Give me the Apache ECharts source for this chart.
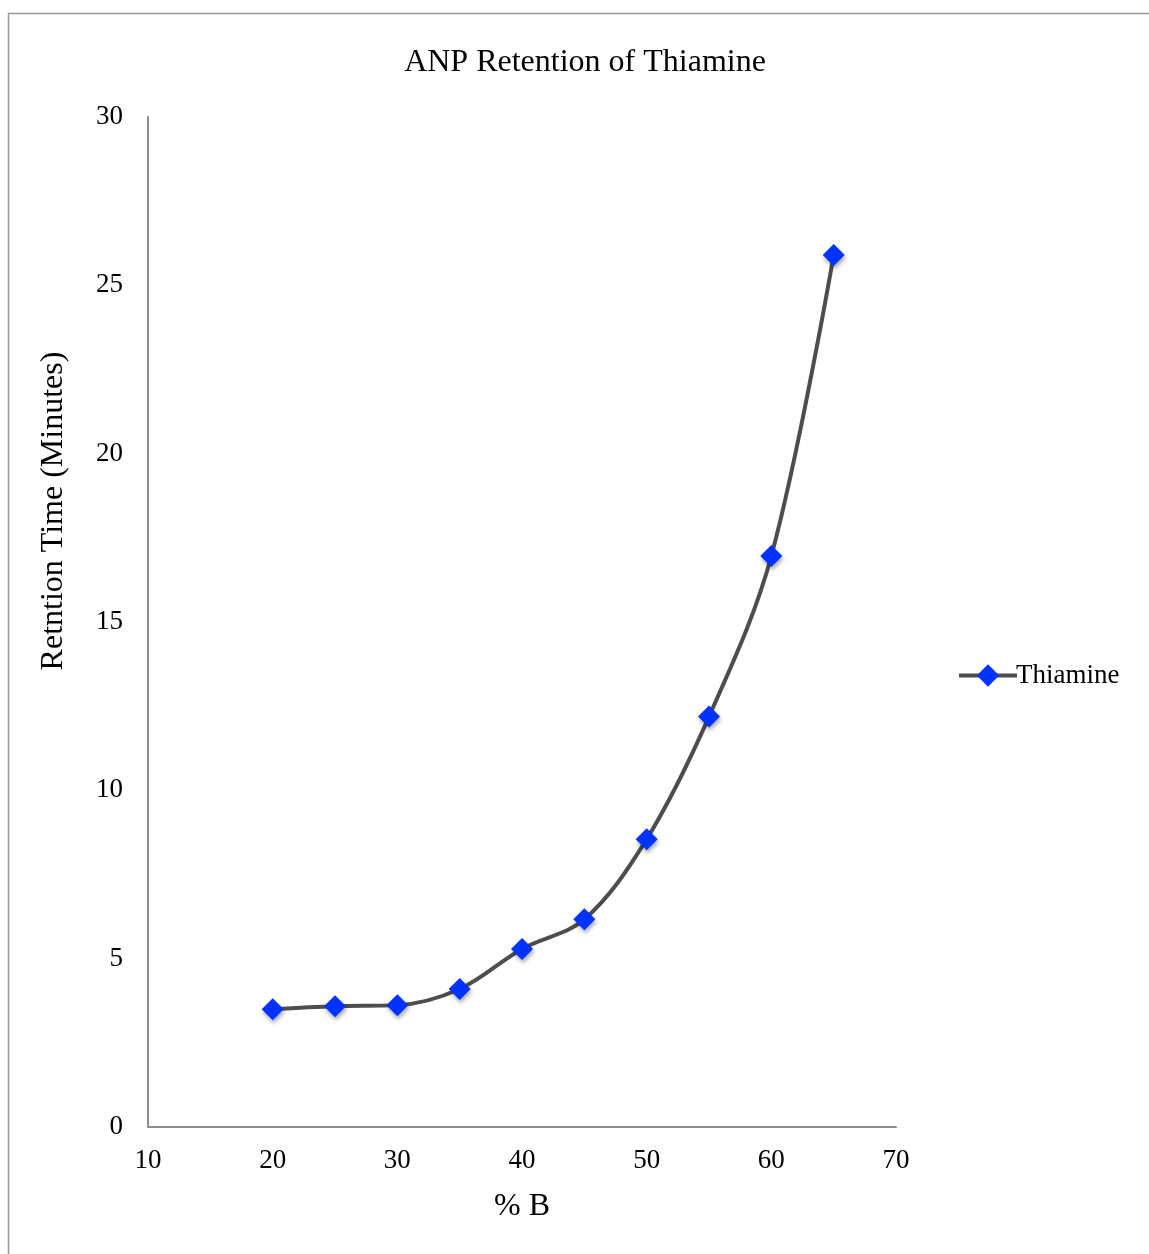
<!DOCTYPE html>
<html>
<head>
<meta charset="utf-8">
<script src="https://cdn.jsdelivr.net/npm/echarts@6/dist/echarts.min.js"></script>
<style>
html,body{margin:0;padding:0;background:#fff;}
#chart{width:1149px;height:1254px;}
</style>
</head>
<body>
<div id="chart"></div>
<script>
const percentB = [20, 25, 30, 35, 40, 45, 50, 55, 60, 65];
const retentionTime = [3.50, 3.59, 3.62, 4.10, 5.29, 6.17, 8.55, 12.19, 16.96, 25.90];
const seriesName = 'Thiamine';
const chartTitle = 'ANP Retention of Thiamine';
const xName = '% B';
const yName = 'Retntion Time (Minutes)';

const serif = '"Liberation Serif", "Times New Roman", serif';
const chart = echarts.init(document.getElementById('chart'), null, {renderer: 'canvas'});
chart.setOption({
  backgroundColor: '#fff',
  animation: false,
  graphic: [{
    type: 'rect', silent: true,
    shape: {x: 8.5, y: 13.5, width: 1400, height: 1400},
    style: {fill: 'none', stroke: '#999', lineWidth: 1.5}
  }],
  title: {
    text: chartTitle, left: 580, top: 42, textAlign: 'center',
    textStyle: {fontFamily: serif, fontSize: 32, fontWeight: 'normal', color: '#000'}
  },
  legend: {
    orient: 'vertical', left: 952, top: 657,
    itemWidth: 58, itemHeight: 28, itemGap: 6,
    lineStyle: {width: 4, color: '#4d4d4d'},
    textStyle: {fontFamily: serif, fontSize: 27, color: '#000', padding: [0, 0, 0, -6]},
    data: [seriesName]
  },
  grid: {left: 148, right: 253, top: 117, bottom: 127, containLabel: false},
  xAxis: {
    type: 'value', min: 10, max: 70, interval: 10,
    name: xName, nameLocation: 'middle', nameGap: 64,
    nameTextStyle: {fontFamily: serif, fontSize: 32, color: '#000'},
    axisLine: {show: true, onZero: false, lineStyle: {color: '#8c8c8c', width: 2}},
    axisTick: {show: false},
    splitLine: {show: false},
    axisLabel: {fontFamily: serif, fontSize: 27, color: '#000', margin: 20}
  },
  yAxis: {
    type: 'value', min: 0, max: 30, interval: 5,
    name: yName, nameLocation: 'middle', nameGap: 78,
    nameTextStyle: {fontFamily: serif, fontSize: 32, color: '#000', padding: [0, 0, 0, 222]},
    axisLine: {show: true, onZero: false, lineStyle: {color: '#8c8c8c', width: 2}},
    axisTick: {show: false},
    splitLine: {show: false},
    axisLabel: {fontFamily: serif, fontSize: 27, color: '#000', margin: 25}
  },
  series: [{
    name: seriesName,
    type: 'line',
    data: percentB.map((x, i) => [x, retentionTime[i]]),
    smooth: 0.35,
    symbol: 'diamond',
    symbolSize: 22,
    lineStyle: {color: '#4d4d4d', width: 4},
    itemStyle: {color: '#0033ff', shadowColor: 'rgba(0,0,0,0.35)', shadowBlur: 4, shadowOffsetX: 1, shadowOffsetY: 3},
    emphasis: {disabled: true}
  }]
});
</script>
</body>
</html>
